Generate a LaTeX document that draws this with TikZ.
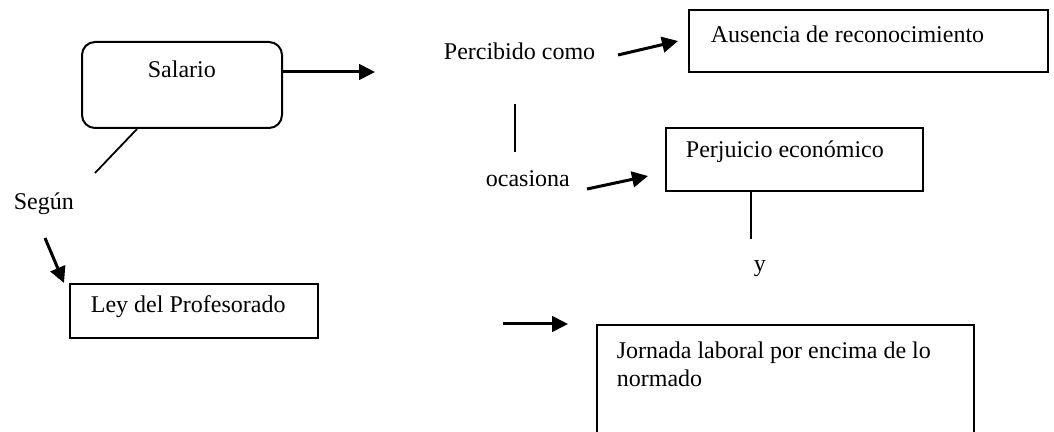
\documentclass[tikz,border=0pt]{standalone}
\usepackage{fontspec}
\setmainfont{Liberation Serif}
\usetikzlibrary{arrows.meta}

\begin{document}
\begin{tikzpicture}[x=0.5pt,y=-0.5pt,>={Triangle[length=8pt,width=7.8pt]},
                    line width=0.9pt]
  \tikzstyle{every node}=[font=\fontsize{12}{13.8}\selectfont,inner sep=0pt]
  \tikzstyle{box}=[draw,line width=1pt,anchor=north west]
  \tikzstyle{word}=[anchor=base west]
  \tikzstyle{link}=[->,line width=1.5pt]

  \clip (0,0) rectangle (1054,432);

  \node[box,rounded corners=6.5pt,minimum width=100pt,minimum height=43pt] (salario) at (81,41) {};
  \node[box,minimum width=124pt,minimum height=27pt] (ley)       at (69,283)  {};
  \node[box,minimum width=179.5pt,minimum height=31pt] (ausencia) at (688,9)   {};
  \node[box,minimum width=128.5pt,minimum height=31.5pt] (perjuicio) at (665,127) {};
  \node[box,minimum width=188.5pt,minimum height=70pt] (jornada)  at (596,324) {};

  \node[word] (salario-t)   at (147,78)  {Salario};
  \node[word] (segun)       at (13,210)  {Según};
  \node[word] (ley-t)       at (90,313)  {Ley del Profesorado};
  \node[word] (percibido)   at (443,60)  {Percibido como};
  \node[word] (ausencia-t)  at (710,43)  {Ausencia de reconocimiento};
  \node[word] (ocasiona)    at (485,187) {ocasiona};
  \node[word] (perjuicio-t) at (685,158) {Perjuicio económico};
  \node[word] (conj)        at (753,272) {y};
  \node[word,anchor=north west,align=left] (jornada-t) at (616,341)
       {Jornada laboral por encima de lo\\normado};

  \coordinate (salario-tip)   at (375,72);
  \coordinate (segun-up)      at (95,173);
  \coordinate (segun-down)    at (45,238);
  \coordinate (percibido-out) at (618,55);
  \coordinate (percibido-low) at (515,104);
  \coordinate (ocasiona-up)   at (515,152);
  \coordinate (ocasiona-out)  at (587,189);
  \coordinate (perjuicio-low) at (751,239);
  \coordinate (jornada-in)    at (503,324);

  \draw[link] (salario.east |- salario-tip) -- (salario-tip);
  \draw ([xshift=28pt]salario.south west) -- (segun-up);
  \draw[link] (segun-down) -- ([xshift=-2.5pt]ley.north west);
  \draw[link] (percibido-out) -- ([xshift=-5pt]ausencia.west);
  \draw (percibido-low) -- (ocasiona-up);
  \draw[link] (ocasiona-out) -- ([xshift=-8.5pt,yshift=-8.25pt]perjuicio.west);
  \draw ([xshift=43pt]perjuicio.south west) -- (perjuicio-low);
  \draw[link] (jornada-in) -- ([xshift=-14pt]jornada.north west);
\end{tikzpicture}
\end{document}
